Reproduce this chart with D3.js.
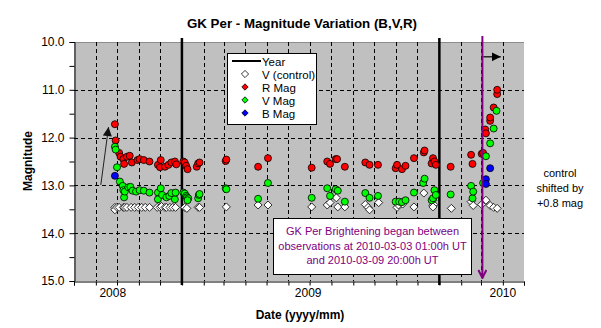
<!DOCTYPE html>
<html>
<head>
<meta charset="utf-8">
<script src="https://cdn.jsdelivr.net/npm/d3@7"></script>
<style>
  html, body { margin: 0; padding: 0; background: #fff; }
  svg { display: block; font-family: "Liberation Sans", Arial, sans-serif; }
</style>
</head>
<body>
<svg id="chart" width="601" height="328"></svg>
<script>
// ---------------- DATA ----------------
const vControl = [
  ["2008-09-28",13.46],["2008-09-28",13.51],["2008-10-01",13.46],["2008-10-04",13.46],["2008-10-10",13.46],
  ["2008-10-12",13.46],["2008-10-15",13.46],["2008-10-21",13.46],["2008-10-26",13.46],["2008-10-31",13.46],
  ["2008-11-05",13.46],["2008-11-10",13.46],["2008-11-16",13.46],["2008-11-27",13.46],["2008-12-01",13.46],
  ["2008-12-03",13.44],["2008-12-08",13.46],["2008-12-10",13.46],["2008-12-15",13.46],["2008-12-19",13.46],
  ["2008-12-23",13.46],["2009-01-05",13.46],["2009-01-08",13.48],["2009-01-24",13.46],["2009-01-26",13.46],
  ["2009-03-05",13.45],["2009-04-19",13.41],["2009-05-03",13.41],["2009-07-04",13.45],["2009-07-26",13.41],
  ["2009-07-30",13.36],["2009-08-08",13.26],["2009-08-10",13.45],["2009-08-20",13.45],["2009-09-18",13.40],
  ["2009-09-22",13.46],["2009-09-24",13.51],["2009-10-07",13.36],["2009-11-02",13.46],["2009-11-04",13.41],
  ["2009-11-10",13.39],["2009-11-26",13.45],["2009-12-10",13.16],["2009-12-23",13.31],["2009-12-23",13.42],
  ["2009-12-24",13.40],["2009-12-23",13.45],["2010-01-18",13.48],["2010-02-15",13.34],["2010-02-18",13.42],
  ["2010-03-02",13.40],["2010-03-08",13.31],["2010-03-14",13.42],["2010-03-19",13.46],["2010-03-24",13.48]
];
const rMag = [
  ["2008-09-28",11.72],["2008-09-29",12.06],["2008-10-04",12.32],["2008-10-06",12.40],["2008-10-10",12.45],
  ["2008-10-11",12.55],["2008-10-15",12.40],["2008-10-19",12.38],["2008-10-22",12.52],["2008-10-30",12.47],
  ["2008-11-02",12.45],["2008-11-08",12.47],["2008-11-16",12.50],["2008-11-28",12.57],["2008-12-01",12.62],
  ["2008-12-02",12.47],["2008-12-08",12.61],["2008-12-13",12.57],["2008-12-17",12.52],["2008-12-22",12.50],
  ["2008-12-24",12.56],["2009-01-03",12.50],["2009-01-05",12.52],["2009-01-07",12.59],["2009-01-09",12.66],
  ["2009-01-22",12.61],["2009-01-24",12.54],["2009-01-26",12.52],["2009-03-04",12.49],["2009-03-05",12.46],
  ["2009-04-19",12.61],["2009-05-03",12.43],["2009-07-04",12.63],["2009-07-26",12.50],["2009-07-30",12.55],
  ["2009-08-07",12.45],["2009-08-09",12.45],["2009-08-20",12.61],["2009-09-18",12.52],["2009-09-24",12.57],
  ["2009-10-06",12.57],["2009-10-31",12.64],["2009-11-02",12.57],["2009-11-09",12.66],["2009-11-14",12.59],
  ["2009-11-26",12.43],["2009-12-10",12.31],["2009-12-11",12.27],["2009-12-21",12.54],["2009-12-23",12.43],
  ["2009-12-25",12.50],["2009-12-27",12.57],["2010-01-17",12.61],["2010-02-15",12.36],["2010-02-17",12.55],
  ["2010-03-02",12.34],["2010-03-04",12.32],["2010-03-07",11.83],["2010-03-08",11.91],["2010-03-14",11.65],
  ["2010-03-14",11.58],["2010-03-19",11.37],["2010-03-24",11.09],["2010-03-24",11.00]
];
const vMag = [
  ["2008-09-28",12.19],["2008-09-29",12.25],["2008-10-01",12.62],["2008-10-05",12.92],["2008-10-09",13.01],
  ["2008-10-10",13.10],["2008-10-11",13.25],["2008-10-12",13.13],["2008-10-17",13.04],["2008-10-20",13.03],
  ["2008-10-23",13.11],["2008-10-28",13.13],["2008-11-02",13.10],["2008-11-08",13.11],["2008-11-16",13.15],
  ["2008-11-28",13.15],["2008-11-28",13.29],["2008-12-02",13.06],["2008-12-04",13.20],["2008-12-10",13.25],
  ["2008-12-14",13.22],["2008-12-17",13.16],["2008-12-22",13.29],["2008-12-23",13.15],["2009-01-03",13.15],
  ["2009-01-05",13.17],["2009-01-07",13.22],["2009-01-08",13.25],["2009-01-10",13.27],["2009-01-09",13.31],
  ["2009-01-24",13.27],["2009-01-25",13.20],["2009-01-26",13.18],["2009-03-04",13.06],["2009-03-05",13.08],
  ["2009-04-19",13.28],["2009-05-03",12.95],["2009-07-04",13.26],["2009-07-26",13.06],["2009-07-30",13.22],
  ["2009-08-07",13.08],["2009-08-10",13.11],["2009-08-20",13.34],["2009-09-18",13.16],["2009-09-24",13.26],
  ["2009-10-06",13.22],["2009-10-31",13.34],["2009-11-05",13.34],["2009-11-09",13.35],["2009-11-14",13.31],
  ["2009-11-26",13.15],["2009-12-09",12.95],["2009-12-11",12.86],["2009-12-21",13.31],["2009-12-23",13.27],
  ["2009-12-25",13.10],["2009-12-27",13.20],["2010-01-17",13.19],["2010-02-15",13.01],["2010-02-17",13.27],
  ["2010-02-18",13.13],["2010-03-04",12.95],["2010-03-08",12.39],["2010-03-14",12.12],["2010-03-19",11.81],
  ["2010-03-23",11.44]
];
const bMag = [
  ["2008-09-28",12.80],["2010-03-08",12.87],["2010-03-08",12.97],["2010-03-14",12.64]
];
const xDomain = ["2008-08-01","2010-05-01"];
const yDomain = [10, 15];
const yTicks = [10, 11, 12, 13, 14, 15];
const yearLines = ["2009-01-01","2010-01-01"];
const xLabelDates = ["2008-09-25","2009-06-29","2010-04-01"];
const xLabels = ["2008","2009","2010"];
const brightening = "2010-03-03";
const legendLabels = ["Year","V (control)","R Mag","V Mag","B Mag"];
const noteLines = ["GK Per Brightening began between","observations at 2010-03-03 01:00h UT","and 2010-03-09 20:00h UT"];
const sideNote = ["control","shifted by","+0.8 mag"];

// ---------------- SETUP ----------------
const parse = d3.utcParse("%Y-%m-%d");
const svg = d3.select("#chart");
const L = 74, R = 524, T = 42, B = 281;
const x = d3.scaleUtc().domain(xDomain.map(parse)).range([L, R]);
const y = d3.scaleLinear().domain(yDomain).range([T, B]);

const defs = svg.append("defs");
defs.append("marker").attr("id","ahBlack").attr("viewBox","0 0 10 10").attr("refX",10).attr("refY",5)
  .attr("markerWidth",9).attr("markerHeight",9).attr("markerUnits","userSpaceOnUse").attr("orient","auto")
  .append("path").attr("d","M0,0 L10,5 L0,10 z").attr("fill","#000");
defs.append("marker").attr("id","ahBlack2").attr("viewBox","0 0 10 10").attr("refX",10).attr("refY",5)
  .attr("markerWidth",11).attr("markerHeight",9).attr("markerUnits","userSpaceOnUse").attr("orient","auto")
  .append("path").attr("d","M0,0 L10,5 L0,10 z").attr("fill","#111");
defs.append("marker").attr("id","ahPurple").attr("viewBox","0 0 10 10").attr("refX",9).attr("refY",5)
  .attr("markerWidth",10).attr("markerHeight",10).attr("markerUnits","userSpaceOnUse").attr("orient","auto")
  .append("path").attr("d","M1,1 L9,5 L1,9").attr("fill","none").attr("stroke","#800080").attr("stroke-width",2);

// plot background
svg.append("rect").attr("x",L).attr("y",T).attr("width",R-L).attr("height",B-T).attr("fill","#c0c0c0");
svg.append("line").attr("x1",L).attr("x2",R).attr("y1",T+0.5).attr("y2",T+0.5).attr("stroke","#8c8c8c");

// gridlines
const months = d3.utcMonth.range(d3.utcMonth.offset(x.domain()[0],1), x.domain()[1])
  .filter(d => d.getUTCMonth() !== 0);
svg.append("g").selectAll("line").data(months).join("line")
  .attr("x1",d=>Math.round(x(d))+0.5).attr("x2",d=>Math.round(x(d))+0.5)
  .attr("y1",T).attr("y2",B)
  .attr("stroke","#000").attr("stroke-dasharray","4,3");
svg.append("g").selectAll("line").data(yTicks.slice(1,-1)).join("line")
  .attr("x1",L).attr("x2",R).attr("y1",d=>Math.round(y(d))+0.5).attr("y2",d=>Math.round(y(d))+0.5)
  .attr("stroke","#000").attr("stroke-dasharray","4,3");

// axes
const yAxis = d3.axisLeft(y).tickValues(d3.range(10,15.01,0.5)).tickSize(5)
  .tickFormat(d => Number.isInteger(d) ? d.toFixed(1) : "");
const gy = svg.append("g").attr("transform",`translate(${L+0.5},0)`).call(yAxis);
gy.select(".domain").attr("stroke","#000");
gy.selectAll("text").attr("font-size","12px").attr("fill","#000").attr("x",-10)
  .attr("font-family","'Liberation Sans', Arial, sans-serif");

const xAxis = d3.axisBottom(x).tickValues(d3.utcMonth.range(x.domain()[0], d3.utcMonth.offset(x.domain()[1],1)))
  .tickSize(4).tickFormat("");
const gx = svg.append("g").attr("transform",`translate(0,${B+0.5})`).call(xAxis);
gx.select(".domain").attr("stroke","#000");
svg.append("g").selectAll("text").data(xLabelDates).join("text")
  .attr("x",d=>x(parse(d))).attr("y",297).attr("text-anchor","middle").attr("font-size","12px")
  .text((d,i)=>xLabels[i]);

// year lines
svg.append("g").selectAll("line").data(yearLines).join("line")
  .attr("x1",d=>x(parse(d))).attr("x2",d=>x(parse(d))).attr("y1",T-4).attr("y2",B+4)
  .attr("stroke","#000").attr("stroke-width",2.5);

// series
function dots(data, fill) {
  svg.append("g").selectAll("circle").data(data).join("circle")
    .attr("cx",d=>x(parse(d[0]))).attr("cy",d=>y(d[1])).attr("r",3.5)
    .attr("fill",fill).attr("stroke","#000").attr("stroke-width",0.8);
}
const diamondPath = h => `M0,${-h}L${h},0L0,${h}L${-h},0Z`;
svg.append("g").selectAll("path").data(vControl).join("path")
  .attr("transform",d=>`translate(${x(parse(d[0]))},${y(d[1])})`).attr("d",diamondPath(4))
  .attr("fill","#fff").attr("stroke","#000").attr("stroke-width",0.8);
dots(rMag,"#ff0000");
dots(vMag,"#00ff00");
dots(bMag,"#0000ff");

// brightening line (purple)
const xb = x(parse(brightening));
svg.append("line").attr("x1",xb).attr("x2",xb).attr("y1",36).attr("y2",278)
  .attr("stroke","#800080").attr("stroke-width",2).attr("marker-end","url(#ahPurple)");
// right arrow
svg.append("line").attr("x1",xb+1).attr("x2",x(parse("2010-03-29"))).attr("y1",y(10.31)).attr("y2",y(10.31))
  .attr("stroke","#000").attr("stroke-width",1.2).attr("marker-end","url(#ahBlack)");
// rising arrow
svg.append("line").attr("x1",x(parse("2008-09-08"))).attr("y1",y(12.99))
  .attr("x2",x(parse("2008-09-19"))).attr("y2",y(11.78))
  .attr("stroke","#222").attr("stroke-width",1).attr("marker-end","url(#ahBlack2)");

// legend
const lg = svg.append("g");
lg.append("rect").attr("x",227.5).attr("y",53.5).attr("width",89).attr("height",71)
  .attr("fill","#fff").attr("stroke","#000");
const rowY = [61, 74, 87, 100, 113];
const legendFill = [null,"#fff","#ff0000","#00ff00","#0000ff"];
legendLabels.forEach((lab,i)=>{
  if (i===0) {
    lg.append("line").attr("x1",232).attr("x2",261).attr("y1",rowY[i]).attr("y2",rowY[i])
      .attr("stroke","#000").attr("stroke-width",2);
  } else {
    lg.append("path").attr("transform",`translate(245,${rowY[i]})`)
      .attr("d",diamondPath(i===1?3.6:3.2))
      .attr("fill",legendFill[i]).attr("stroke","#000").attr("stroke-width",0.8);
  }
  lg.append("text").attr("x",262).attr("y",rowY[i]+4.5).attr("font-size","11.5px").text(lab);
});

// note box
const nb = svg.append("g");
nb.append("rect").attr("x",273.5).attr("y",218.5).attr("width",198).attr("height",56)
  .attr("fill","#fff").attr("stroke","#000");
nb.selectAll("text").data(noteLines).join("text")
  .attr("x",372.5).attr("y",(d,i)=>235+i*14.5).attr("text-anchor","middle")
  .attr("font-size","11px").attr("fill","#800080").text(d=>d);

// side note
svg.append("g").selectAll("text").data(sideNote).join("text")
  .attr("x",560).attr("y",(d,i)=>177+i*15).attr("text-anchor","middle").attr("font-size","11px").text(d=>d);

// titles
svg.append("text").attr("x",302).attr("y",28).attr("text-anchor","middle").attr("font-size","13.3px")
  .attr("font-weight","bold").text("GK Per - Magnitude Variation (B,V,R)");
svg.append("text").attr("x",300).attr("y",319).attr("text-anchor","middle").attr("font-size","12px")
  .attr("font-weight","bold").text("Date (yyyy/mm)");
svg.append("text").attr("transform","translate(32,161) rotate(-90)").attr("text-anchor","middle")
  .attr("font-size","12px").attr("font-weight","bold").text("Magnitude");
</script>
</body>
</html>
